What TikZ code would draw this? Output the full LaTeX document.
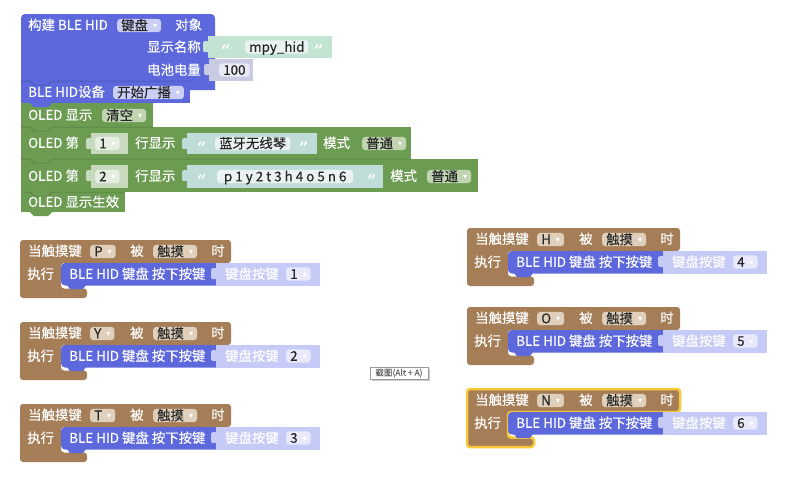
\documentclass[tikz,border=0pt]{standalone}
\usepackage{fontspec}
\setmainfont{Noto Sans CJK SC}[FakeBold=0.3]
\newfontfamily\arrfont{DejaVu Sans}
\newfontfamily\quofont{DejaVu Serif}
\definecolor{blePurple}{RGB}{92,104,219}
\definecolor{purField}{RGB}{203,207,245}
\definecolor{keyLav}{RGB}{197,202,247}
\definecolor{kbField}{RGB}{232,234,252}
\definecolor{oledGreen}{RGB}{108,156,82}
\definecolor{greenField}{RGB}{192,212,178}
\definecolor{numGreen}{RGB}{200,218,190}
\definecolor{numGreenField}{RGB}{230,238,225}
\definecolor{strTeal}{RGB}{192,220,216}
\definecolor{strMint}{RGB}{196,228,211}
\definecolor{strField}{RGB}{234,243,241}
\definecolor{numGray}{RGB}{200,203,226}
\definecolor{numField}{RGB}{234,235,246}
\definecolor{touchBrown}{RGB}{165,126,88}
\definecolor{brownField}{RGB}{224,208,187}
\definecolor{hlYellow}{RGB}{250,200,55}
\newcommand\dn{\hspace{5pt}\raisebox{1.6pt}{\arrfont\fontsize{8}{8}\selectfont\textcolor{white}{▾}}}
\tikzset{
  txt/.style={anchor=west, inner sep=0pt, text=white, font=\fontsize{13.4}{15}\selectfont, text height=10.8pt, text depth=1.2pt},
  rtxt/.style={txt, anchor=east},
  fld/.style={txt, text=black!85, fill=#1, rounded corners=3pt, inner xsep=4pt, inner ysep=0.6pt},
  quo/.style={txt, font=\quofont\bfseries\fontsize{16}{18}\selectfont}
}
\begin{document}
\begin{tikzpicture}[x=1pt,y=-1pt]
\useasboundingbox (0,0) rectangle (800,488);
% block stack
\fill[blePurple, rounded corners=4pt] (21,90) |- (215,14) -- (215,90);
\fill[blePurple] (21,81) rectangle (190,103);
\fill[oledGreen] (21,103) rectangle (153,127);
\fill[oledGreen] (21,127) rectangle (411,159);
\fill[oledGreen] (21,159) rectangle (478,192);
\fill[oledGreen] (21,192) rectangle (125,212);
\foreach \yy/\ww/\cc in {81/190/blePurple, 127/153/oledGreen, 159/411/oledGreen, 192/125/oledGreen}
  \draw[\cc!75!black, line width=0.5pt] (21,\yy) -- (30,\yy) -- (34,\yy+4) -- (48,\yy+4) -- (52,\yy) -- (\ww,\yy);
\fill[blePurple] (30,103) -- (34,107) -- (48,107) -- (52,103) -- cycle;
\fill[oledGreen] (30,212) -- (34,216) -- (48,216) -- (52,212) -- cycle;

\node[txt] (build) at (28,25) {构建 BLE HID};
\node[fld=purField] (kind) at (117,25.5) {键盘\dn};
\node[txt] (obj) at (175,25) {对象};
\node[rtxt] (name) at (201,47) {显示名称};
\node[rtxt] (batt) at (201,70) {电池电量};
\fill[strMint] (208,36) rectangle (332,58);
\fill[strMint, rounded corners=1.5pt] (203,41) rectangle (209,52);
\node[quo] (nameq1) at (221,52) {“};
\node[fld=strField] (devname) at (245,47) {mpy\_hid};
\node[quo] (nameq2) at (314,52) {”};
\fill[numGray] (209,59) rectangle (253,81);
\fill[numGray, rounded corners=1.5pt] (204,64) rectangle (210,75);
\node[fld=numField] (level) at (219,70) {100};

\node[txt] (adv) at (28,92) {BLE HID设备};
\node[fld=purField] (advmode) at (113,92.5) {开始广播\dn};
\node[txt] (clear) at (28,115) {OLED 显示};
\node[fld=greenField] (clearmode) at (102,115.5) {清空\dn};

\node[txt] (line1) at (28,143) {OLED 第};
\fill[numGreen] (91,133) rectangle (128,154);
\fill[numGreen, rounded corners=1.5pt] (86,138) rectangle (92,149);
\node[fld=numGreenField] (row1) at (95,143.5) {1\dn};
\node[txt] (show1) at (135,143) {行显示};
\fill[strTeal] (187,133) rectangle (317,154);
\fill[strTeal, rounded corners=1.5pt] (182,138) rectangle (188,149);
\node[quo] (q11) at (197,149) {“};
\node[fld=strField] (str1) at (215,143.5) {蓝牙无线琴};
\node[quo] (q12) at (299,149) {”};
\node[txt] (mode1) at (323,143) {模式};
\node[fld=greenField] (m1) at (362,143.5) {普通\dn};

\node[txt] (line2) at (28,176) {OLED 第};
\fill[numGreen] (91,165) rectangle (128,188);
\fill[numGreen, rounded corners=1.5pt] (86,170) rectangle (92,181);
\node[fld=numGreenField] (row2) at (95,176.5) {2\dn};
\node[txt] (show2) at (135,176) {行显示};
\fill[strTeal] (187,165) rectangle (383,188);
\fill[strTeal, rounded corners=1.5pt] (182,170) rectangle (188,181);
\node[quo] (q21) at (197,182) {“};
\node[fld=strField, minimum width=136pt] (str2) at (217,176.5) {p 1 y 2 t 3 h 4 o 5 n 6};
\node[quo] (q22) at (367,182) {”};
\node[txt] (mode2) at (390,176) {模式};
\node[fld=greenField] (m2) at (427,176.5) {普通\dn};
\node[txt] (flush) at (28,202) {OLED 显示生效};

% touch keys
\foreach \x/\y/\k/\n/\sh/\hl in {20/240/P/1/0/none, 20/322/Y/2/0/none, 20/404/T/3/0/none, 467/228/H/4/2/none, 467/307/O/5/2/none, 467/389/N/6/2/hlYellow}{
  \path[fill=touchBrown, draw=\hl, line width=2.5pt, rounded corners=3pt] (\x,\y) -- (\x+211+\sh,\y) -- (\x+211+\sh,\y+23) -- (\x+41,\y+23) -- (\x+41,\y+48.5) -- (\x+67,\y+48.5) -- (\x+67,\y+58) -- (\x,\y+58) -- cycle;
  \fill[blePurple, rounded corners=4pt] (\x+41,\y+23) rectangle (\x+200,\y+45.5);
  \fill[blePurple] (\x+47,\y+45) -- (\x+50,\y+49) -- (\x+63,\y+49) -- (\x+66,\y+45) -- cycle;
  \fill[keyLav] (\x+196,\y+23) rectangle (\x+300,\y+45.5);
  \fill[keyLav, rounded corners=1.5pt] (\x+191,\y+28) rectangle (\x+197,\y+39);
  \node[txt] (when\n) at (\x+8,\y+11) {当触摸键};
  \node[fld=brownField] (key\n) at (\x+70,\y+11.5) {\k\dn};
  \node[txt] (by\n) at (\x+110+\sh,\y+11) {被};
  \node[fld=brownField] (touch\n) at (\x+133+\sh,\y+11.5) {触摸\dn};
  \node[txt] (then\n) at (\x+191+\sh,\y+11) {时};
  \node[txt] (do\n) at (\x+7,\y+34) {执行};
  \node[txt] (press\n) at (\x+49,\y+34) {BLE HID 键盘 按下按键};
  \node[txt] (kbkey\n) at (\x+205,\y+34) {键盘按键};
  \node[fld=kbField] (num\n) at (\x+266,\y+34) {\n\dn};
}

\fill[black!20] (372,369) rectangle (430,381);
\filldraw[fill=white, draw=black!40, line width=0.4pt] (370,367) rectangle (428,379);
\node[inner sep=0pt, text=black!60, font=\fontsize{8.5}{9}\selectfont] (tip) at (399,373) {截图(Alt + A)};
\end{tikzpicture}
\end{document}
